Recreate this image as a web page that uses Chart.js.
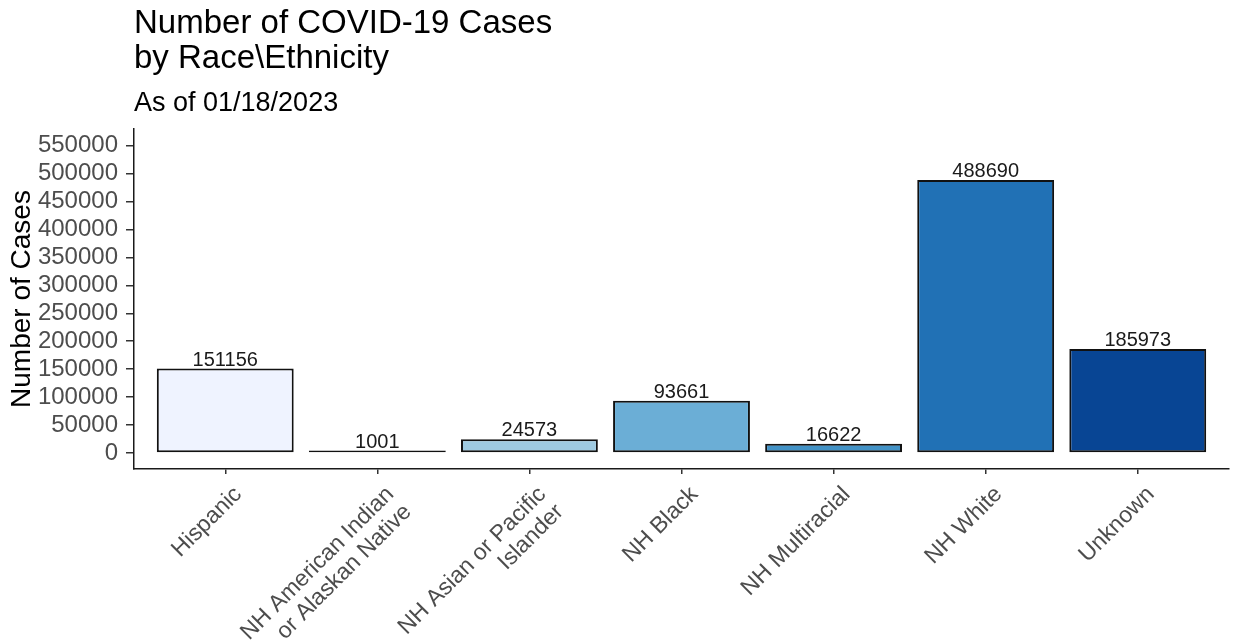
<!DOCTYPE html>
<html><head><meta charset="utf-8">
<script src="https://cdn.jsdelivr.net/npm/chart.js@4/dist/chart.umd.min.js"></script>
<style>html,body{margin:0;padding:0;background:#fff}canvas{display:block}</style>
</head><body>
<canvas id="c" width="1233" height="642"></canvas>
<script>
const categories = ["Hispanic", "NH American Indian or Alaskan Native", "NH Asian or Pacific Islander", "NH Black", "NH Multiracial", "NH White", "Unknown"];
const tickLabels = [["Hispanic"], ["NH American Indian", "or Alaskan Native"], ["NH Asian or Pacific", "Islander"], ["NH Black"], ["NH Multiracial"], ["NH White"], ["Unknown"]];
const cases = [151156, 1001, 24573, 93661, 16622, 488690, 185973];
const barColors = ["#EFF3FF", "#C6DBEF", "#9ECAE1", "#6BAED6", "#4292C6", "#2171B5", "#084594"];
const yTicks = [0, 50000, 100000, 150000, 200000, 250000, 300000, 350000, 400000, 450000, 500000, 550000];
const titleLines = ["Number of COVID-19 Cases", "by Race\\Ethnicity"];
const subtitleText = "As of 01/18/2023";
const yAxisTitle = "Number of Cases";

Chart.defaults.font.family = "'Liberation Sans', Arial, sans-serif";

const valueLabels = {
  id: 'valueLabels',
  afterDatasetsDraw(chart) {
    const ctx = chart.ctx;
    const meta = chart.getDatasetMeta(0);
    ctx.save();
    ctx.font = "20px 'Liberation Sans', Arial, sans-serif";
    ctx.fillStyle = '#1a1a1a';
    ctx.textAlign = 'center';
    ctx.textBaseline = 'alphabetic';
    meta.data.forEach((bar, i) => {
      ctx.fillText(String(cases[i]), bar.x, bar.y - 3);
    });
    ctx.restore();
  }
};

new Chart(document.getElementById('c'), {
  type: 'bar',
  data: {
    datasets: [{
      data: cases.map((v, i) => ({x: i, y: v})),
      backgroundColor: barColors,
      borderColor: '#111',
      borderWidth: 2,
      borderSkipped: false,
      minBarLength: 2.5,
      categoryPercentage: 0.9,
      barPercentage: 1.0
    }]
  },
  options: {
    responsive: false,
    animation: false,
    devicePixelRatio: 1,
    layout: {padding: {left: 0, right: 4, top: 0, bottom: 0}},
    plugins: {
      legend: {display: false},
      tooltip: {enabled: false},
      title: {
        display: true, text: titleLines, align: 'start', fullSize: false,
        color: '#000', font: {size: 33, weight: 'normal', lineHeight: 1.05},
        padding: {top: 7, bottom: 5}
      },
      subtitle: {
        display: true, text: subtitleText, align: 'start', fullSize: false,
        color: '#000', font: {size: 27, weight: 'normal', lineHeight: 1.2},
        padding: {top: 6, bottom: 9.3}
      }
    },
    scales: {
      x: {
        type: 'linear',
        min: -0.6, max: 6.6,
        offset: false,
        afterBuildTicks: (axis) => { axis.ticks = categories.map((c, i) => ({value: i})); },
        afterFit: (axis) => { axis.height = 642 - 469; },
        ticks: {
          autoSkip: false, minRotation: 45, maxRotation: 45,
          color: '#4D4D4D', font: {size: 23, lineHeight: 1.08}, padding: 8, labelOffset: 13,
          callback: (v) => tickLabels[v]
        },
        grid: {display: true, offset: false, drawOnChartArea: false, drawTicks: true, tickLength: 5, color: '#333', lineWidth: 1.5},
        border: {display: true, color: '#1a1a1a', width: 1.5}
      },
      y: {
        type: 'linear',
        min: -28600, max: 579800,
        afterBuildTicks: (axis) => { axis.ticks = yTicks.map(v => ({value: v})); },
        afterFit: (axis) => { axis.width = 134; },
        ticks: {autoSkip: false, color: '#4D4D4D', font: {size: 24}, padding: 8, callback: (v) => String(v)},
        grid: {display: true, offset: false, drawOnChartArea: false, drawTicks: true, tickLength: 8, color: '#333', lineWidth: 1.5},
        border: {display: true, color: '#1a1a1a', width: 1.5},
        title: {display: true, text: yAxisTitle, color: '#000', font: {size: 28}, padding: {top: 5, bottom: 0}}
      }
    }
  },
  plugins: [valueLabels]
});
</script>
</body></html>
